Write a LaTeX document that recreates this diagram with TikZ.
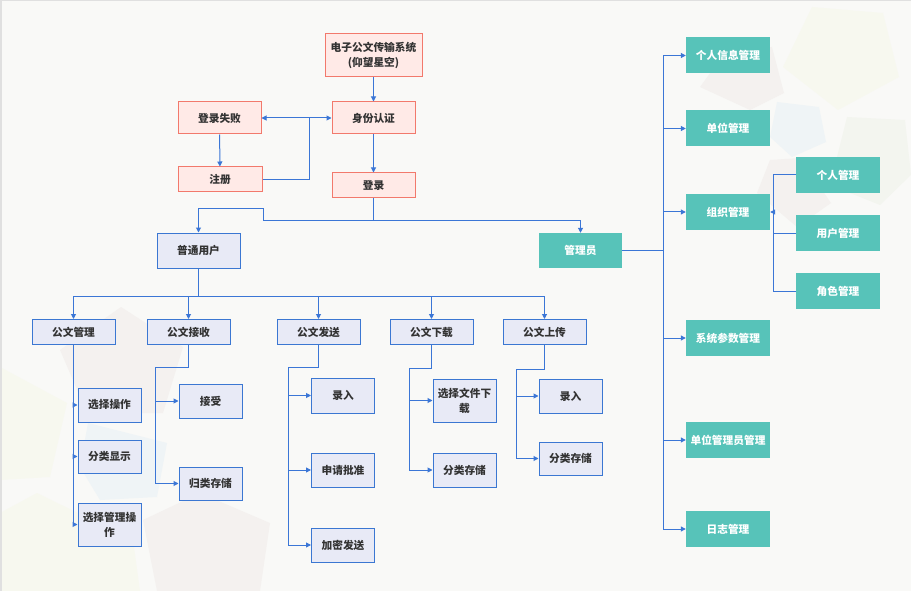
\documentclass[tikz,border=0pt]{standalone}
\usepackage{fontspec}
\newfontfamily\cjk{Noto Sans CJK SC}
\usetikzlibrary{arrows.meta}
\definecolor{bgcol}{HTML}{F9F9F7}
\definecolor{redline}{HTML}{F2796C}
\definecolor{redfill}{HTML}{FFEAE7}
\definecolor{blueline}{HTML}{3B77D2}
\definecolor{bluefill}{HTML}{E8EAF6}
\definecolor{tealc}{HTML}{57C3B9}
\definecolor{linkc}{HTML}{3B76D6}
\definecolor{txt}{HTML}{333333}
\definecolor{pk}{HTML}{F4F1EF}
\definecolor{bl}{HTML}{EFF4F6}
\definecolor{yl}{HTML}{F7F8EF}
\definecolor{gr}{HTML}{F3F5EF}
\begin{document}
\begin{tikzpicture}[x=1pt,y=-1pt,font={\cjk\bfseries\fontsize{10.7}{15}\selectfont},
  >={Triangle[length=5pt,width=5pt]},
  box/.style={draw, line width=1pt, text=txt, inner sep=0pt, align=center},
  redbox/.style={box, draw=redline, fill=redfill},
  bluebox/.style={box, draw=blueline, fill=bluefill},
  tealbox/.style={inner sep=0pt, fill=tealc, text=white, align=center, minimum width=84, minimum height=36},
  link/.style={draw=linkc, line width=1pt},
  arr/.style={link, ->}]
  % background and faint pentagons
  \fill[bgcol] (0,0) rectangle (911,591);
  \useasboundingbox (0,0) rectangle (911,591);
  \fill[yl] (812,7) -- (883,13) -- (899,77) -- (838,110) -- (783,67) -- cycle;
  \fill[bl] (777,102) -- (819,107) -- (826,142) -- (792,157) -- (770,137) -- cycle;
  \fill[gr] (847,117) -- (905,120) -- (911,175) -- (880,205) -- (830,185) -- cycle;
  \fill[pk] (700,87) -- (727,50) -- (772,47) -- (784,93) -- (750,110) -- cycle;
  \fill[pk] (770,160) -- (800,158) -- (831,203) -- (797,227) -- (757,193) -- cycle;
  \fill[pk] (60,350) -- (121,307) -- (183,347) -- (163,413) -- (87,413) -- cycle;
  \fill[bl] (88,423) -- (167,443) -- (157,497) -- (100,500) -- (80,467) -- cycle;
  \fill[yl] (0,367) -- (67,403) -- (50,477) -- (0,480) -- cycle;
  \fill[yl] (0,513) -- (37,493) -- (133,540) -- (140,591) -- (0,591) -- cycle;
  \fill[pk] (143,520) -- (200,493) -- (270,523) -- (260,591) -- (157,591) -- cycle;
  \draw[black!12, line width=1.5pt] (0.75,591) -- (0.75,0.75) -- (911,0.75);

  % login part
  \node[redbox, minimum width=97, minimum height=43] (sys) at (373.5,55.5) {电子公文传输系统\\(仰望星空)};
  \node[redbox, minimum width=83, minimum height=32] (auth) at (373.5,118) {身份认证};
  \node[redbox, minimum width=83, minimum height=32] (fail) at (219.5,118) {登录失败};
  \node[redbox, minimum width=84, minimum height=25] (reg) at (220,179.5) {注册};
  \node[redbox, minimum width=83, minimum height=25] (login) at (373.5,185.5) {登录};
  \coordinate (jr) at (309,118);
  \coordinate (j1) at (263,220.5);
  \draw[arr] (sys) -- (auth);
  \draw[arr] (auth) -- (login);
  \draw[arr] (fail) -- (reg);
  \draw[link, <->] (fail) -- (auth);
  \draw[link] (reg) -| (jr);

  % users
  \node[bluebox, minimum width=83, minimum height=35] (user) at (198.5,250.5) {普通用户};
  \node[tealbox, minimum width=83, minimum height=35] (admin) at (580.5,250.5) {管理员};
  \draw[arr] (login) -- (login |- j1) -- (j1) -- ++(0,-12) -| (user);
  \draw[arr] (j1) -| (admin);

  % modules of the common user
  \coordinate (bus) at (198.5,296);
  \draw[link] (user) -- (bus);
  \foreach \n/\x/\t in {m1/73.5/公文管理, m2/188.5/公文接收, m3/318.5/公文发送, m4/431.5/公文下载, m5/544.5/公文上传} {
    \node[bluebox, minimum width=83, minimum height=25] (\n) at (\x,332) {\t};
    \draw[arr] (bus) -| (\n);
  }
  \foreach \n/\x/\y/\h/\t in {a1/109.5/405/34/选择操作, a2/109.5/456.5/33/分类显示, a3/109.5/524.5/43/选择管理操\\作,
      b1/210.5/401/34/接受, b2/210.5/483.5/33/归类存储,
      c1/343/395.5/35/录入, c2/343/470/34/申请批准, c3/343/545/34/加密发送,
      d1/464.5/400.5/43/选择文件下\\载, d2/464.5/470/34/分类存储,
      e1/570.5/396/34/录入, e2/570.5/458.5/33/分类存储}
    \node[bluebox, minimum width=63, minimum height=\h] (\n) at (\x,\y) {\t};
  \foreach \c in {a1,a2,a3}
    \draw[arr] (m1.south) |- (\c);
  \foreach \m/\k/\x/\y/\l in {m2/k2/155/367/{b1,b2}, m3/k3/288/367/{c1,c2,c3}, m4/k4/409/368/{d1,d2}, m5/k5/516/369/{e1,e2}} {
    \coordinate (\k) at (\x,\y);
    \draw[link] (\m) |- (\k);
    \foreach \c in \l
      \draw[arr] (\k) |- (\c);
  }

  % admin part
  \coordinate (ka) at (663,250.5);
  \draw[link] (admin) -- (ka);
  \foreach \n/\y/\t in {r1/55.5/个人信息管理, r2/128.5/单位管理, r3/212/组织管理, r4/338/系统参数管理, r5/440/单位管理员管理, r6/529/日志管理} {
    \node[tealbox] (\n) at (728,\y) {\t};
    \draw[arr] (ka) |- (\n);
  }
  \coordinate (ks) at (773,212);
  \foreach \n/\y/\t in {s1/175/个人管理, s2/233/用户管理, s3/291/角色管理} {
    \node[tealbox] (\n) at (838,\y) {\t};
    \draw[link] (\n) -| (ks);
  }
  \draw[arr] (ks) -- (r3);
\end{tikzpicture}
\end{document}
